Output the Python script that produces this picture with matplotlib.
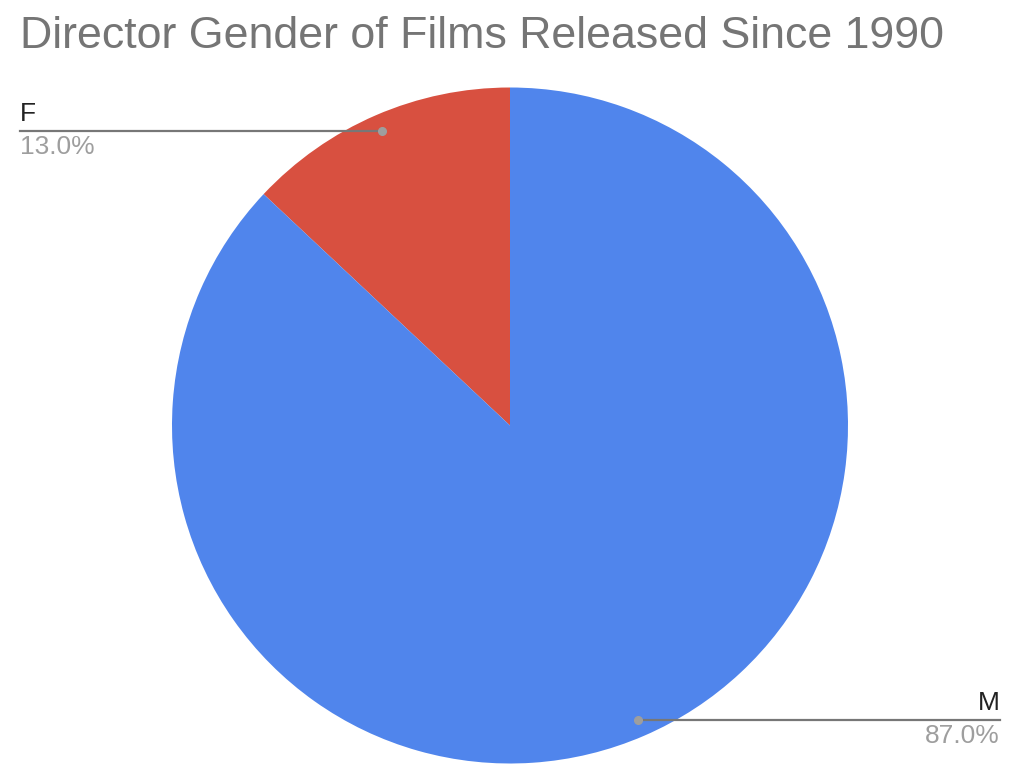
import numpy as np
import matplotlib.pyplot as plt

plt.rcParams['font.family'] = ['Liberation Sans', 'DejaVu Sans']

labels = ['F', 'M']
shares = [13.0, 87.0]
colors = ['#d85040', '#5085ec']

W, H = 1024, 781
fig = plt.figure(figsize=(W / 100, H / 100), dpi=100)
ax = fig.add_axes([0, 0, 1, 1])

cx, cy, r = 510, H - 425.5, 338
wedges, _ = ax.pie(shares, colors=colors, startangle=90, counterclock=True,
                   center=(cx, cy), radius=r, frame=True,
                   wedgeprops=dict(linewidth=0))
ax.set_xlim(0, W)
ax.set_ylim(0, H)
ax.set_aspect('equal')
ax.axis('off')

fig.text(20 / W, 1 - 37 / H, 'Director Gender of Films Released Since 1990',
         fontsize=32.2, color='#757575', va='center', ha='left')

# leader lines: dot at 0.95 r on the slice mid angle, line out to the side
ends = {'F': 20, 'M': 1000}
for w, lab, val in zip(wedges, labels, shares):
    mid = np.deg2rad((w.theta1 + w.theta2) / 2)
    dx = cx + 0.95 * r * np.cos(mid)
    dy = cy + 0.95 * r * np.sin(mid)
    x_end = ends[lab]
    ax.plot([dx, x_end], [dy, dy], color='#777777', lw=1.6, zorder=3)
    ax.plot(dx, dy, 'o', color='#9e9e9e', ms=5.5, zorder=4)
    ha = 'left' if x_end < dx else 'right'
    ax.text(x_end, dy + 5, lab, fontsize=19, color='#222222', ha=ha, va='bottom')
    ax.text(x_end, dy - 4, f'{val:.1f}%', fontsize=19, color='#9e9e9e', ha=ha, va='top')

fig.savefig('out.png', dpi=100)
